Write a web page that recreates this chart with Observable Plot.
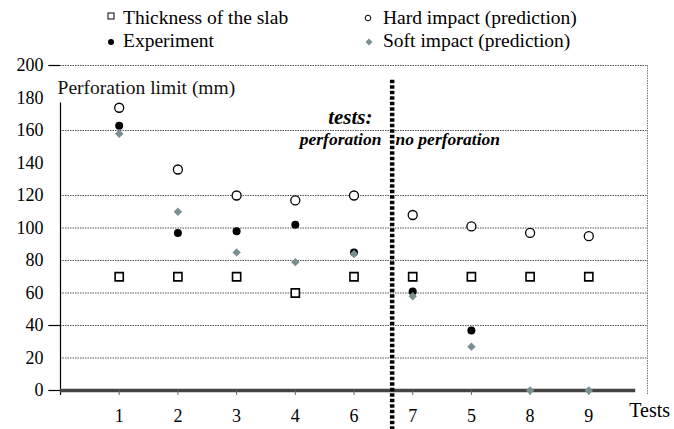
<!DOCTYPE html>
<html><head><meta charset="utf-8">
<script src="https://cdn.jsdelivr.net/npm/d3@7"></script>
<script src="https://cdn.jsdelivr.net/npm/@observablehq/plot@0.6"></script>
<style>
body{margin:0;background:#fff;}
#wrap{position:relative;width:674px;height:429px;overflow:hidden;font-family:'Liberation Serif','Times New Roman',Times,'DejaVu Serif',serif;}
#chart{position:absolute;left:0;top:0}
#legend{position:absolute;left:0;top:0;width:674px;height:60px}
#legend .t{position:absolute;font-size:19.5px;line-height:20px;color:#000;white-space:nowrap;font-family:'Liberation Serif','Times New Roman',Times,serif;}
#legend svg{position:absolute;left:0;top:0}
</style></head>
<body>
<div id="wrap">
<div id="chart"></div>
<div id="legend">
<svg width="674" height="60">
<rect x="108" y="13" width="6" height="6" fill="#fff" stroke="#000" stroke-width="1"/>
<circle cx="368" cy="18" r="2.8" fill="#fff" stroke="#000" stroke-width="1"/>
<circle cx="111" cy="42" r="3" fill="#000"/>
<path d="M369,38.5 L372.5,42 L369,45.5 L365.5,42 Z" fill="#7a9090"/>
</svg>
<span class="t" style="left:123px;top:7.5px">Thickness of the slab</span>
<span class="t" style="left:383px;top:7.5px">Hard impact (prediction)</span>
<span class="t" style="left:123px;top:30.5px">Experiment</span>
<span class="t" style="left:383px;top:30.5px">Soft impact (prediction)</span>
</div>
</div>
<script>
const tests = ["1","2","3","4","6","7","5","8","9"];
const thickness = [70,70,70,60,70,70,70,70,70];
const hardImpact = [174,136,120,117,120,108,101,97,95];
const experiment = [163,97,98,102,85,61,37,null,null];
const softImpact = [158,110,85,79,84,58,27,0,0];
const yTicks = [0,20,40,60,80,100,120,140,160,180,200];
const gridValues = [20,40,60,80,100,120,160];

const rows = tests.map((t,i)=>({idx:i+1,test:t,thickness:thickness[i],hard:hardImpact[i],exp:experiment[i],soft:softImpact[i]}));
const serif = "'Liberation Serif','Times New Roman',Times,serif";

const chart = Plot.plot({
  width:674, height:429,
  marginTop:65, marginBottom:39, marginLeft:60, marginRight:27,
  style:{fontFamily:serif, fontSize:"18px", color:"#000", background:"transparent", overflow:"visible"},
  x:{domain:[0,10]},
  y:{domain:[0,200]},
  marks:[
    Plot.ruleY(gridValues,{x1:0,x2:10,stroke:"#555",strokeWidth:1,strokeDasharray:"1.5,1"}),
    Plot.ruleY([200],{x1:0,x2:10,stroke:"#555",strokeWidth:1,strokeDasharray:"1.5,1"}),
    Plot.ruleX([10],{y1:-2.5,y2:200,stroke:"#777",strokeWidth:1,strokeDasharray:"1.5,1"}),
    Plot.ruleY([0,40,200],{x1:-0.2,x2:0,stroke:"#000",strokeWidth:1.2}),
    Plot.ruleX([0],{y1:-3,y2:177,stroke:"#000",strokeWidth:1.2}),
    Plot.ruleY([0],{x1:0,x2:9.8,stroke:"#444",strokeWidth:3.5}),
    Plot.axisX({ticks:[1,2,3,4,5,6,7,8,9],tickFormat:d=>tests[d-1],tickSize:5,tickPadding:14,fontSize:18,stroke:"#666",label:null,fontFamily:serif}),
    Plot.axisY({ticks:yTicks,tickSize:0,tickPadding:17,fontSize:18,label:null,fontFamily:serif}),
    Plot.ruleX([5.65],{y1:191,y2:-25,stroke:"#000",strokeWidth:4.5,strokeDasharray:"3.5,2"}),
    Plot.dot(rows,{x:"idx",y:"thickness",symbol:"square",r:4.6,fill:"#fff",stroke:"#000",strokeWidth:1.6}),
    Plot.dot(rows,{x:"idx",y:"hard",symbol:"circle",r:4.5,fill:"#fff",stroke:"#000",strokeWidth:1.3}),
    Plot.dot(rows.filter(d=>d.exp!=null),{x:"idx",y:"exp",symbol:"circle",r:4,fill:"#000"}),
    Plot.dot(rows,{x:"idx",y:"soft",symbol:"diamond2",r:3.8,fill:"#7a9090"}),
    Plot.text(["Perforation limit (mm)"],{x:-0.05,y:186.5,text:d=>d,textAnchor:"start",fontSize:19.5,fill:"#111",fontFamily:serif}),
    Plot.text(["Tests"],{x:9.69,y:-12.1,text:d=>d,textAnchor:"start",fontSize:20,fontFamily:serif}),
    Plot.text(["tests:"],{x:5.315,y:168.4,text:d=>d,textAnchor:"end",fontSize:21,fontWeight:"bold",fontStyle:"italic",fontFamily:serif}),
    Plot.text(["perforation"],{x:5.468,y:154.7,text:d=>d,textAnchor:"end",fontSize:17.5,fontWeight:"bold",fontStyle:"italic",fontFamily:serif}),
    Plot.text(["no perforation"],{x:5.707,y:154.7,text:d=>d,textAnchor:"start",fontSize:17.5,fontWeight:"bold",fontStyle:"italic",fontFamily:serif})
  ]
});
document.getElementById("chart").appendChild(chart);
</script>
</body></html>
